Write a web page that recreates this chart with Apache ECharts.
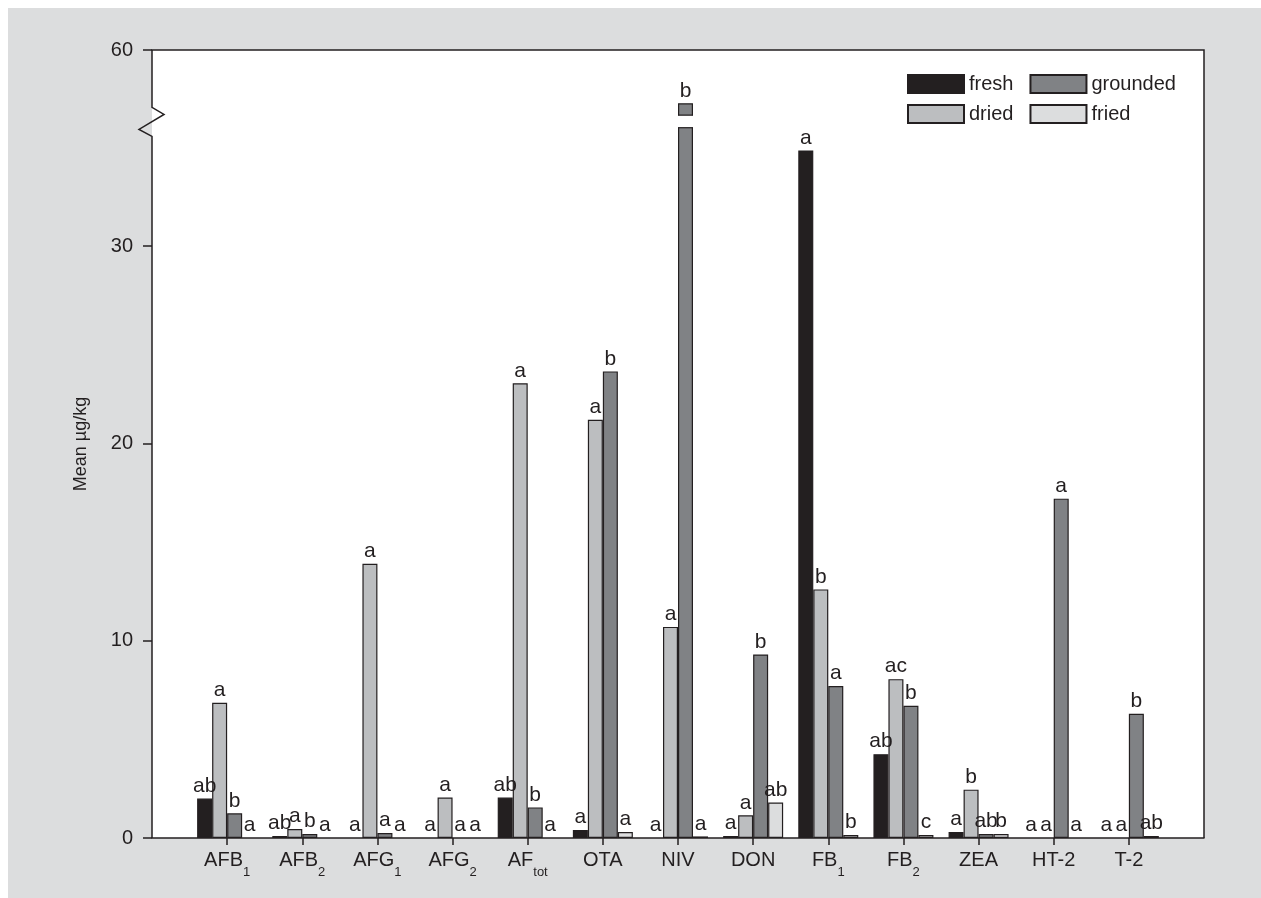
<!DOCTYPE html>
<html>
<head>
<meta charset="utf-8">
<script src="https://cdn.jsdelivr.net/npm/echarts@6/dist/echarts.min.js"></script>
<style>
  html, body { margin: 0; padding: 0; background: #fff; }
  #wrap { position: relative; width: 1261px; height: 898px; background: #fff; }
  #bg { position: absolute; left: 8px; top: 8px; right: 0; bottom: 0; background: #dcddde; }
  #chart { position: absolute; left: 0; top: 0; width: 1261px; height: 898px; }
</style>
</head>
<body>
<div id="wrap"><div id="bg"></div><div id="chart"></div></div>
<script>
// ---- data ----
const catMain = ['AFB', 'AFB', 'AFG', 'AFG', 'AF', 'OTA', 'NIV', 'DON', 'FB', 'FB', 'ZEA', 'HT-2', 'T-2'];
const catSub  = ['1', '2', '1', '2', 'tot', '', '', '', '1', '2', '', '', ''];

const fresh    = [2.0, 0.1, 0, 0, 2.05, 0.4, 0, 0.1, 34.85, 4.25, 0.3, 0, 0];
const dried    = [6.85, 0.45, 13.9, 2.05, 23.05, 21.2, 10.7, 1.15, 12.6, 8.05, 2.45, 0, 0];
const grounded = [1.25, 0.2, 0.25, 0, 1.55, 23.65, 57.3, 9.3, 7.7, 6.7, 0.2, 17.2, 6.3];
const fried    = [0, 0, 0, 0, 0, 0.3, 0.08, 1.8, 0.15, 0.15, 0.2, 0, 0.1];

const labFresh    = ['ab', 'ab', 'a', 'a', 'ab', 'a', 'a', 'a', 'a', 'ab', 'a', 'a', 'a'];
const labDried    = ['a', 'a', 'a', 'a', 'a', 'a', 'a', 'a', 'b', 'ac', 'b', 'a', 'a'];
const labGrounded = ['b', 'b', 'a', 'a', 'b', 'b', 'b', 'b', 'a', 'b', 'ab', 'a', 'b'];
const labFried    = ['a', 'a', 'a', 'a', 'a', 'a', 'a', 'ab', 'b', 'c', 'b', 'a', 'ab'];

const yTicks = [0, 10, 20, 30, 60];
const yBreak = { start: 36, end: 56.7 };

// ---- build ----
const FONT = '"Liberation Sans", Arial, Helvetica, sans-serif';
const INK = '#231f20';
const FS = 20;
const cats = ['', ...catMain.map((m, i) => m + '|' + catSub[i]), ''];

function mkData(vals, labs) {
  const arr = vals.map((v, i) => ({
    value: v,
    label: { formatter: labs[i] },
    itemStyle: v === 0 ? { borderWidth: 0 } : {}
  }));
  return ['-', ...arr, '-'];
}

const seriesDefs = [
  { name: 'fresh', vals: fresh, labs: labFresh, color: INK },
  { name: 'dried', vals: dried, labs: labDried, color: '#bcbec0' },
  { name: 'grounded', vals: grounded, labs: labGrounded, color: '#808285' },
  { name: 'fried', vals: fried, labs: labFried, color: '#dcddde' }
];

const chart = echarts.init(document.getElementById('chart'), null, { renderer: 'canvas' });

const legendCommon = {
  itemWidth: 56, itemHeight: 18, itemGap: 16, padding: 0, z: 1000,
  textStyle: { fontFamily: FONT, fontSize: FS, color: INK },
  icon: 'rect',
  orient: 'horizontal'
};

const option = {
  animation: false,
  backgroundColor: 'transparent',
  textStyle: { fontFamily: FONT },
  grid: { left: 152, right: 57, top: 50, bottom: 60, show: true, backgroundColor: '#fff', borderWidth: 0 },
  legend: [
    Object.assign({}, legendCommon, { data: ['fresh', 'grounded'], left: 907, top: 74 }),
    Object.assign({}, legendCommon, { data: ['dried', 'fried'], left: 907, top: 104 })
  ],
  xAxis: {
    type: 'category',
    data: cats,
    boundaryGap: false,
    axisLine: { show: true, lineStyle: { color: INK, width: 1.5 } },
    axisTick: {
      show: true, length: 7, lineStyle: { color: INK, width: 1.5 },
      interval: function (i) { return i > 0 && i < cats.length - 1; }
    },
    axisLabel: {
      interval: function (i) { return i > 0 && i < cats.length - 1; },
      margin: 12,
      formatter: function (v) {
        if (!v) return '';
        const p = v.split('|');
        return '{m|' + p[0] + '}' + (p[1] ? '{s|' + p[1] + '}' : '');
      },
      rich: {
        m: { fontFamily: FONT, fontSize: FS, color: INK, verticalAlign: 'top', lineHeight: 22 },
        s: { fontFamily: FONT, fontSize: 13, color: INK, verticalAlign: 'top', lineHeight: 13, padding: [16, 0, 0, 0] }
      }
    },
    splitLine: { show: false }
  },
  yAxis: {
    type: 'value',
    min: 0, max: 60, interval: 10,
    breaks: [{ start: yBreak.start, end: yBreak.end, gap: '1.6%' }],
    breakArea: {
      show: true,
      zigzagAmplitude: 0,
      itemStyle: { color: '#fff', borderColor: '#fff', borderWidth: 0, opacity: 1 }
    },
    name: 'Mean µg/kg',
    nameLocation: 'middle',
    nameGap: 62,
    nameTextStyle: { fontFamily: FONT, fontSize: 18, color: INK },
    axisLine: { show: false },
    axisTick: { show: true, length: 9, lineStyle: { color: INK, width: 1.5 }, customValues: yTicks },
    axisLabel: {
      margin: 19,
      fontFamily: FONT, fontSize: FS, color: INK,
      customValues: yTicks,
      showMaxLabel: true, showMinLabel: true,
      formatter: function (v) { return String(Math.round(v * 100) / 100); }
    },
    splitLine: { show: false }
  },
  series: seriesDefs.map(s => ({
    name: s.name,
    type: 'bar',
    barWidth: 15,
    barGap: '0%',
    data: mkData(s.vals, s.labs),
    itemStyle: { color: s.color, borderColor: INK, borderWidth: 1.2 },
    label: {
      show: true, position: 'top', distance: 2,
      fontFamily: FONT, fontSize: 21, color: INK
    }
  }))
};

chart.setOption(option);

function drawFrame() {
  const grid = chart.getModel().getComponent('grid').coordinateSystem.getRect();
  const L = grid.x, T = grid.y, R = grid.x + grid.width, B = grid.y + grid.height;
  const yLo = chart.convertToPixel({ yAxisIndex: 0 }, yBreak.start);
  const yHi = chart.convertToPixel({ yAxisIndex: 0 }, yBreak.end);
  const yc = (yLo + yHi) / 2;
  const g = [
    { type: 'polyline', z: 100, silent: true,
      shape: { points: [[L, B], [L, yc + 15], [L - 13, yc + 8], [L + 12, yc - 7], [L, yc - 14], [L, T], [R, T], [R, B]] },
      style: { fill: null, stroke: INK, lineWidth: 1.5 } }
  ];
  // outline the cut edges of bars that cross the axis break
  seriesDefs.forEach(s => {
    const sm = chart.getModel().getSeriesByName(s.name)[0];
    const d = sm.getData();
    s.vals.forEach((v, i) => {
      if (v > yBreak.end) {
        const lay = d.getItemLayout(i + 1);
        [yLo, yHi].forEach(yy => g.push({
          type: 'line', z: 100, silent: true,
          shape: { x1: lay.x, y1: yy, x2: lay.x + lay.width, y2: yy },
          style: { stroke: INK, lineWidth: 1.2 }
        }));
      }
    });
  });
  chart.setOption({ graphic: g });
}
drawFrame();
</script>
</body>
</html>
